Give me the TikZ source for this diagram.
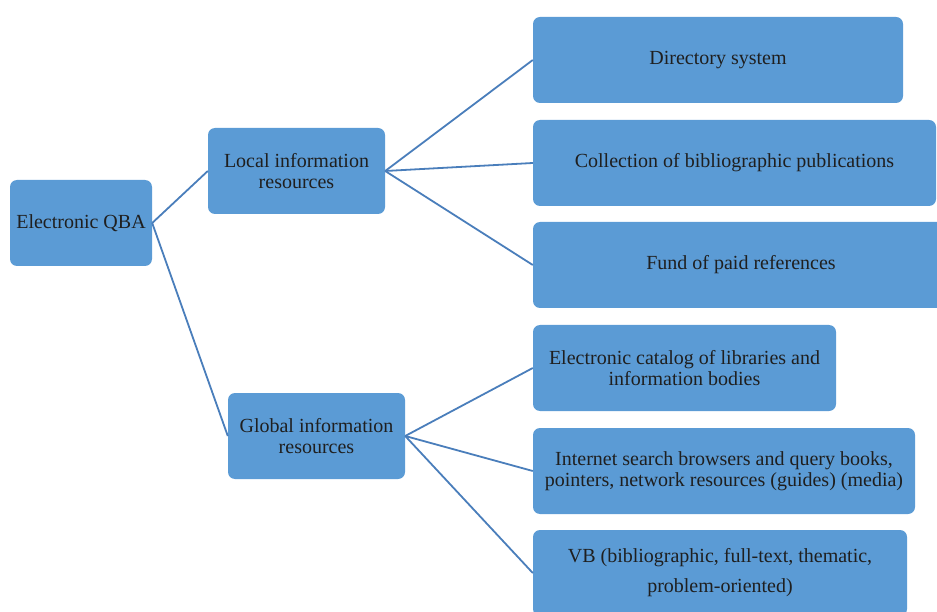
\documentclass[tikz,border=0pt]{standalone}
\usepackage{fontspec}
\setmainfont{Liberation Serif}
\begin{document}
\begin{tikzpicture}[x=1pt,y=-1pt,
  box/.style={fill=boxblue, draw=none, rounded corners=7pt, text=textdark, align=center,
    inner sep=0pt, font=\fontsize{20}{21}\selectfont},
  link/.style={draw=lineblue, line width=1.8pt}]
\definecolor{boxblue}{HTML}{5B9BD5}
\definecolor{lineblue}{HTML}{4A7EBB}
\definecolor{textdark}{HTML}{1F1F1F}
\useasboundingbox (0,0) rectangle (937,612);
\node[box, minimum width=142pt, minimum height=86pt] (qba) at (81,223) {Electronic QBA};
\node[box, minimum width=177pt, minimum height=86pt] (loc) at (296.5,171) {Local information\\resources};
\node[box, minimum width=177pt, minimum height=86pt] (glob) at (316.5,436) {Global information\\resources};
\node[box, minimum width=370pt, minimum height=86pt] (dir) at (718,60) {Directory system};
\node[box, minimum width=403pt, minimum height=86pt] (col) at (734.5,163) {Collection of bibliographic publications};
\node[box, minimum width=416pt, minimum height=86pt] (fund) at (741,265) {Fund of paid references};
\node[box, minimum width=303pt, minimum height=86pt] (cat) at (684.5,368) {Electronic catalog of libraries and\\information bodies};
\node[box, minimum width=382pt, minimum height=86pt] (net) at (724,471) {Internet search browsers and query books,\\pointers, network resources (guides) (media)};
\node[box, minimum width=374pt, minimum height=86pt, font=\fontsize{20}{30}\selectfont] (vb) at (720,573) {VB (bibliographic, full-text, thematic,\\problem-oriented)};
\draw[link] (qba.east) -- (loc.west);
\draw[link] (qba.east) -- (glob.west);
\draw[link] (loc.east) -- (dir.west);
\draw[link] (loc.east) -- (col.west);
\draw[link] (loc.east) -- (fund.west);
\draw[link] (glob.east) -- (cat.west);
\draw[link] (glob.east) -- (net.west);
\draw[link] (glob.east) -- (vb.west);
\end{tikzpicture}
\end{document}
